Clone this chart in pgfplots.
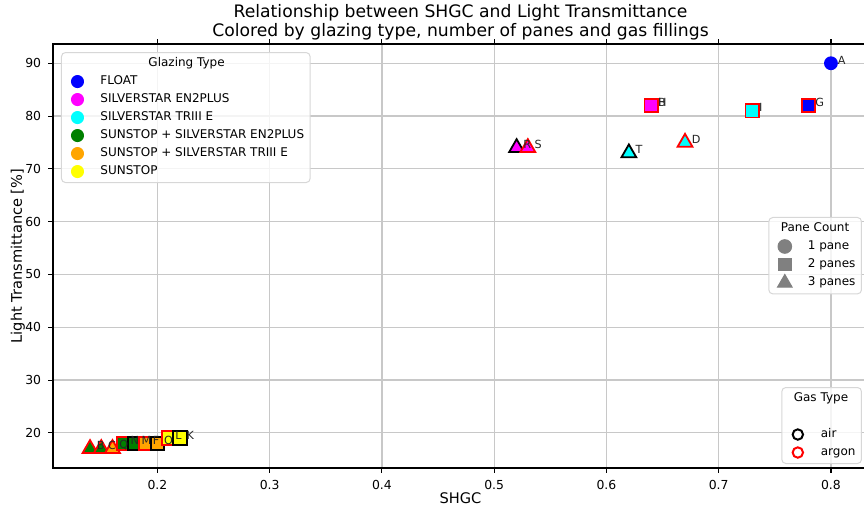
\documentclass[border=0pt]{standalone}
\usepackage{pgfplots}
\pgfplotsset{compat=1.18}
\usepackage{fontspec}
\setmainfont{DejaVu Sans}

\definecolor{cFloat}{rgb}{0,0,1}
\definecolor{cEn2}{rgb}{1,0,1}
\definecolor{cTriii}{rgb}{0,1,1}
\definecolor{cSunEn2}{rgb}{0,0.502,0}
\definecolor{cSunTriii}{rgb}{1,0.647,0}
\definecolor{cSun}{rgb}{1,1,0}
\definecolor{gridc}{RGB}{200,200,200}
\definecolor{legc}{RGB}{128,128,128}
\definecolor{legframe}{RGB}{215,215,215}

\pgfplotsset{
  common/.style={scale only axis, width=407.5pt, height=212pt,
    at={(26.5pt,20pt)}, anchor=south west,
    xmin=0.107, xmax=0.833, ymin=13.35, ymax=93.65},
  pt/.style={only marks, forget plot, line width=0.9pt},
  sq/.style={mark=square*, mark size=3.4pt},
  tri/.style={mark=triangle*, mark size=4.3pt},
  cir/.style={mark=*, mark size=3pt},
  leg/.style={legend cell align=left,
    legend image code/.code={\path[draw=none, fill=none] (-6pt,-2pt) rectangle (10.5pt,2pt); \draw[sharp corners, fill opacity=1, draw opacity=1, ##1] plot coordinates {(0pt,0pt)};},
    legend style={draw=legframe, rounded corners=2pt, fill=white, fill opacity=0.8,
      text opacity=1, font=\fontsize{6}{7}\selectfont, line width=0.5pt,
      nodes={inner sep=1pt, text height=4.5pt, text depth=1.5pt},
      row sep=1pt, column sep=0pt, inner xsep=2pt, inner ysep=1.5pt}},
}

\begin{document}
\begin{tikzpicture}
\useasboundingbox (0pt,0pt) rectangle (432pt,254pt);
\begin{axis}[common, leg,
  grid=major, grid style={gridc, line width=0.6pt},
  axis line style={line width=0.55pt},
  tick style={black, line width=0.55pt},
  tick align=outside, major tick length=2.4pt,
  xtick={0.2,0.3,0.4,0.5,0.6,0.7,0.8},
  ytick={20,30,40,50,60,70,80,90},
  xticklabel style={/pgf/number format/fixed, /pgf/number format/precision=1, /pgf/number format/fixed zerofill},
  /pgf/number format/assume math mode=true,
  ticklabel style={font=\fontsize{6.2}{8}\selectfont},
  xlabel={SHGC}, ylabel={Light Transmittance [\%]},
  label style={font=\fontsize{7.3}{9}\selectfont},
  xlabel style={at={(axis description cs:0.5,-0.0708)}, anchor=center},
  ylabel style={at={(axis description cs:-0.043,0.5)}, anchor=center, rotate=0},
  title={Relationship between SHGC and Light Transmittance\\Colored by glazing type, number of panes and gas fillings},
  title style={align=center, font=\fontsize{8.6}{9.5}\selectfont, at={(0.5,1)}, anchor=south, yshift=-7.8pt},
  legend style={at={(0.0098,0.981)}, anchor=north west},
]
% ---- upper group
\addplot[pt, cir, fill=cFloat, draw=cFloat] coordinates {(0.80,90)};
\addplot[pt, tri, fill=cEn2, draw=black] coordinates {(0.52,74)};
\addplot[pt, tri, fill=cEn2, draw=red] coordinates {(0.53,74)};
\addplot[pt, tri, fill=cTriii, draw=black] coordinates {(0.62,73)};
\addplot[pt, tri, fill=cTriii, draw=red] coordinates {(0.67,75)};
\addplot[pt, sq, fill=cEn2, draw=red] coordinates {(0.64,82)};
\addplot[pt, sq, fill=cTriii, draw=red] coordinates {(0.73,81)};
\addplot[pt, sq, fill=cFloat, draw=red] coordinates {(0.78,82)};
% ---- lower group
\addplot[pt, tri, fill=cSunEn2, draw=red] coordinates {(0.14,17)};
\addplot[pt, tri, fill=cSunEn2, draw=red] coordinates {(0.15,17)};
\addplot[pt, tri, fill=cSunTriii, draw=red] coordinates {(0.16,17)};
\addplot[pt, sq, fill=cSunEn2, draw=red] coordinates {(0.17,18)};
\addplot[pt, sq, fill=cSunEn2, draw=black] coordinates {(0.18,18)};
\addplot[pt, sq, fill=cSunTriii, draw=red] coordinates {(0.19,18)};
\addplot[pt, sq, fill=cSunTriii, draw=black] coordinates {(0.20,18)};
\addplot[pt, sq, fill=cSun, draw=red] coordinates {(0.21,19)};
\addplot[pt, sq, fill=cSun, draw=black] coordinates {(0.22,19)};
% ---- labels
\addplot[only marks, mark=none, forget plot, point meta=explicit symbolic,
  nodes near coords, every node near coord/.style={anchor=west, inner sep=0pt, xshift=3.2pt, yshift=1.6pt,
  font=\fontsize{5.6}{6}\selectfont, text=black!85, fill=none, draw=none}]
  table[row sep=\\, meta=lab] {x y lab\\
  0.80 90 A\\ 0.52 74 R\\ 0.53 74 S\\ 0.62 73 T\\ 0.67 75 D\\ 0.64 82 B\\ 0.64 82 H\\ 0.73 81 I\\ 0.78 82 G\\
  0.14 17 B\\ 0.15 17 C\\ 0.16 17 Q\\ 0.17 18 N\\ 0.18 18 M\\ 0.19 18 F\\ 0.20 18 O\\ 0.21 19 L\\ 0.22 19 K\\};
% ---- legend: glazing type
\addlegendimage{empty legend}\addlegendentry{\hspace*{24pt}Glazing Type}
\addlegendimage{only marks, mark=*, mark size=3pt, draw=cFloat, fill=cFloat}\addlegendentry{FLOAT}
\addlegendimage{only marks, mark=*, mark size=3pt, draw=cEn2, fill=cEn2}\addlegendentry{SILVERSTAR EN2PLUS}
\addlegendimage{only marks, mark=*, mark size=3pt, draw=cTriii, fill=cTriii}\addlegendentry{SILVERSTAR TRIII E}
\addlegendimage{only marks, mark=*, mark size=3pt, draw=cSunEn2, fill=cSunEn2}\addlegendentry{SUNSTOP + SILVERSTAR EN2PLUS}
\addlegendimage{only marks, mark=*, mark size=3pt, draw=cSunTriii, fill=cSunTriii}\addlegendentry{SUNSTOP + SILVERSTAR TRIII E}
\addlegendimage{only marks, mark=*, mark size=3pt, draw=cSun, fill=cSun}\addlegendentry{SUNSTOP}
\end{axis}

% ---- legend: pane count
\begin{axis}[common, leg, hide axis,
  legend style={at={(0.9926,0.592)}, anchor=north east}]
\addlegendimage{empty legend}\addlegendentry{\hspace*{-13.5pt}Pane Count}
\addlegendimage{only marks, mark=*, mark size=3.4pt, draw=legc, fill=legc}\addlegendentry{1 pane}
\addlegendimage{only marks, mark=square*, mark size=3.2pt, draw=legc, fill=legc}\addlegendentry{2 panes}
\addlegendimage{only marks, mark=triangle*, mark size=4.2pt, draw=legc, fill=legc}\addlegendentry{3 panes}
\end{axis}

% ---- legend: gas type
\begin{axis}[common, leg, hide axis,
  legend style={at={(0.9926,0.191)}, anchor=north east}]
\addlegendimage{empty legend}\addlegendentry{\hspace*{-13.5pt}Gas Type}
\addlegendimage{empty legend}\addlegendentry{}
\addlegendimage{only marks, mark=o, mark size=2.6pt, draw=black, line width=1pt}\addlegendentry{air}
\addlegendimage{only marks, mark=o, mark size=2.6pt, draw=red, line width=1pt}\addlegendentry{argon}
\end{axis}
\end{tikzpicture}
\end{document}
